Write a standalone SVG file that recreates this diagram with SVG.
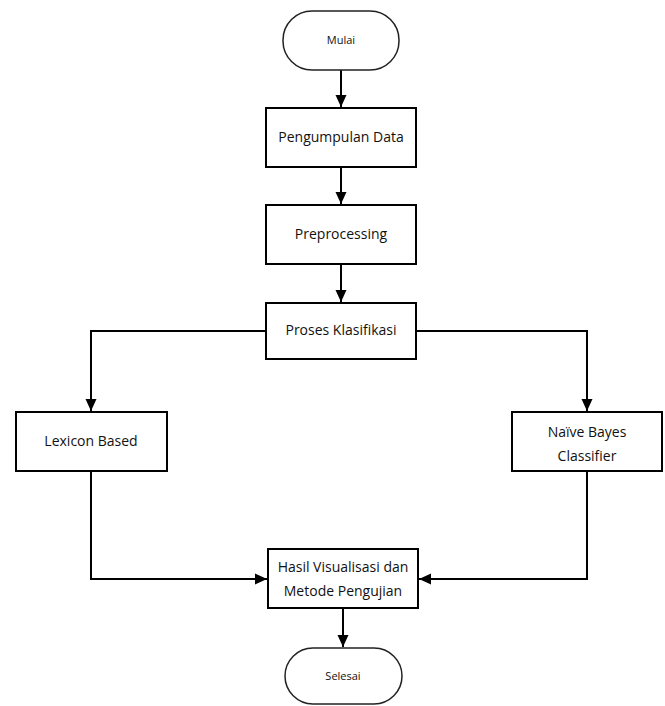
<svg xmlns="http://www.w3.org/2000/svg" width="665" height="706" viewBox="0 0 665 706">
<defs>
<marker id="arr" markerWidth="12" markerHeight="12" refX="12" refY="6" orient="auto" markerUnits="userSpaceOnUse">
<path d="M0,0.5 L12,6 L0,11.5 Z" fill="#000"/>
</marker>
<style>
.box{fill:#fff;stroke:#000;stroke-width:2}
.term{fill:#fff;stroke:#222;stroke-width:1.5}
.lbl{font-family:"Open Sans","Liberation Sans",sans-serif;font-size:14px;fill:#111;text-anchor:middle}
.sm{font-family:"Open Sans","Liberation Sans",sans-serif;font-size:11px;fill:#111;text-anchor:middle}
.con{fill:none;stroke:#000;stroke-width:2;marker-end:url(#arr)}
</style>
</defs>
<rect width="665" height="706" fill="#fff"/>
<g id="connectors">
<path class="con" d="M341,70 V107"/>
<path class="con" d="M341,167 V204"/>
<path class="con" d="M341,264 V302"/>
<path class="con" d="M266,331 H91 V411"/>
<path class="con" d="M416,331 H587 V411"/>
<path class="con" d="M91,471 V579 H267"/>
<path class="con" d="M587,471 V579 H419"/>
<path class="con" d="M343,608 V647"/>
</g>
<g id="mulai">
<rect class="term" x="283" y="11" width="116" height="59" rx="29" ry="29"/>
<text class="sm" x="341" y="44">Mulai</text>
</g>
<g id="pengumpulan">
<rect class="box" x="266" y="108" width="150" height="59"/>
<text class="lbl" x="341" y="142">Pengumpulan Data</text>
</g>
<g id="preprocessing">
<rect class="box" x="266" y="205" width="150" height="59"/>
<text class="lbl" x="341" y="239">Preprocessing</text>
</g>
<g id="proses">
<rect class="box" x="266" y="303" width="150" height="56"/>
<text class="lbl" x="341" y="335">Proses Klasifikasi</text>
</g>
<g id="lexicon">
<rect class="box" x="16" y="412" width="151" height="59"/>
<text class="lbl" x="91" y="446">Lexicon Based</text>
</g>
<g id="naive">
<rect class="box" x="512" y="412" width="150" height="59"/>
<text class="lbl" x="587" y="437">Naïve Bayes</text>
<text class="lbl" x="587" y="461">Classifier</text>
</g>
<g id="hasil">
<rect class="box" x="268" y="549" width="150" height="59"/>
<text class="lbl" x="343" y="572">Hasil Visualisasi dan</text>
<text class="lbl" x="343" y="596">Metode Pengujian</text>
</g>
<g id="selesai">
<rect class="term" x="285" y="648" width="117" height="56" rx="28" ry="28"/>
<text class="sm" x="343" y="680">Selesai</text>
</g>
</svg>
